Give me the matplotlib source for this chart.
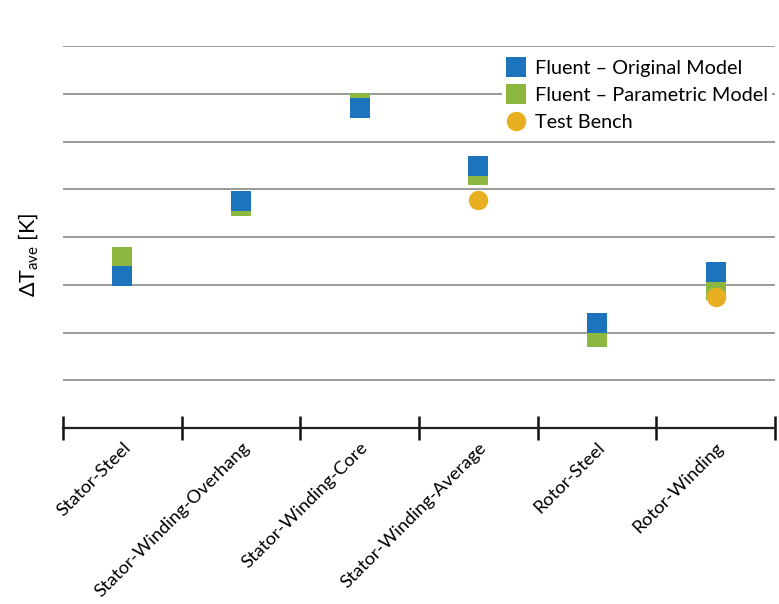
import matplotlib
matplotlib.use("Agg")
import matplotlib.pyplot as plt
import numpy as np

categories = ["Stator-Steel", "Stator-Winding-Overhang", "Stator-Winding-Core",
              "Stator-Winding-Average", "Rotor-Steel", "Rotor-Winding"]
original = [3.19, 4.76, 6.71, 5.49, 2.19, 3.27]
parametric = [3.59, 4.65, 6.80, 5.29, 1.91, 2.89]
bench_idx = [3, 5]
bench = [4.78, 2.75]

plt.rcParams['font.family'] = ['Lato', 'DejaVu Sans']
plt.rcParams['mathtext.fontset'] = 'custom'
plt.rcParams['mathtext.rm'] = 'Lato'
plt.rcParams['mathtext.it'] = 'Lato'

BLUE = "#1C74BC"
GREEN = "#8DB73E"
GOLD = "#E8B021"

W, H = 779, 604
fig = plt.figure(figsize=(W/100, H/100), dpi=100)
ax = fig.add_axes([63/W, (H-428)/H, (775-63)/W, (428-46)/H])

x = np.arange(len(categories)) + 0.5
ax.plot(x, parametric, linestyle='none', marker='s', markersize=13.7,
        color=GREEN, markeredgewidth=0, label="Fluent – Parametric Model", zorder=3)
ax.plot(x, original, linestyle='none', marker='s', markersize=13.7,
        color=BLUE, markeredgewidth=0, label="Fluent – Original Model", zorder=4)
ax.plot(x[bench_idx], bench, linestyle='none', marker='o', markersize=14,
        color=GOLD, markeredgewidth=0, label="Test Bench", zorder=5)

ax.set_xlim(0, len(categories))
ax.set_ylim(0, 8)
ax.set_yticks(np.arange(1, 9))
ax.set_yticklabels([])
ax.tick_params(axis='y', length=0)
ax.grid(axis='y', color='#9a9a9a', linewidth=1.4)
ax.set_axisbelow(True)
for s in ['top', 'right', 'left']:
    ax.spines[s].set_visible(False)
ax.spines['bottom'].set_color('#222222')
ax.spines['bottom'].set_linewidth(1.6)

ax.set_xticks(np.arange(len(categories) + 1))
ax.set_xticklabels([])
ax.tick_params(axis='x', which='major', direction='inout', length=17, width=1.8, color='#111111')
ax.set_xticks(x, minor=True)
ax.set_xticklabels(categories, minor=True, rotation=45, ha='right',
                   rotation_mode='anchor', fontsize=13.2)
ax.tick_params(axis='x', which='minor', length=0, pad=8)

ax.set_ylabel(r"ΔT$_{\mathrm{ave}}$ [K]", fontsize=15.5)
ax.yaxis.set_label_coords((40 - 63) / 712, (428 - 255) / 382)

handles, labels = ax.get_legend_handles_labels()
order = [1, 0, 2]
leg = fig.legend([handles[i] for i in order], [labels[i] for i in order],
                 loc='upper left', bbox_to_anchor=(502/W, 1 - 56/H),
                 frameon=True, fontsize=14.3, handletextpad=0.45, labelspacing=0.5,
                 handlelength=1.0, borderpad=0.2, borderaxespad=0)
leg.get_frame().set_facecolor('white')
leg.get_frame().set_edgecolor('none')
leg.get_frame().set_alpha(1)

fig.savefig("out.png", dpi=100, facecolor='white')
